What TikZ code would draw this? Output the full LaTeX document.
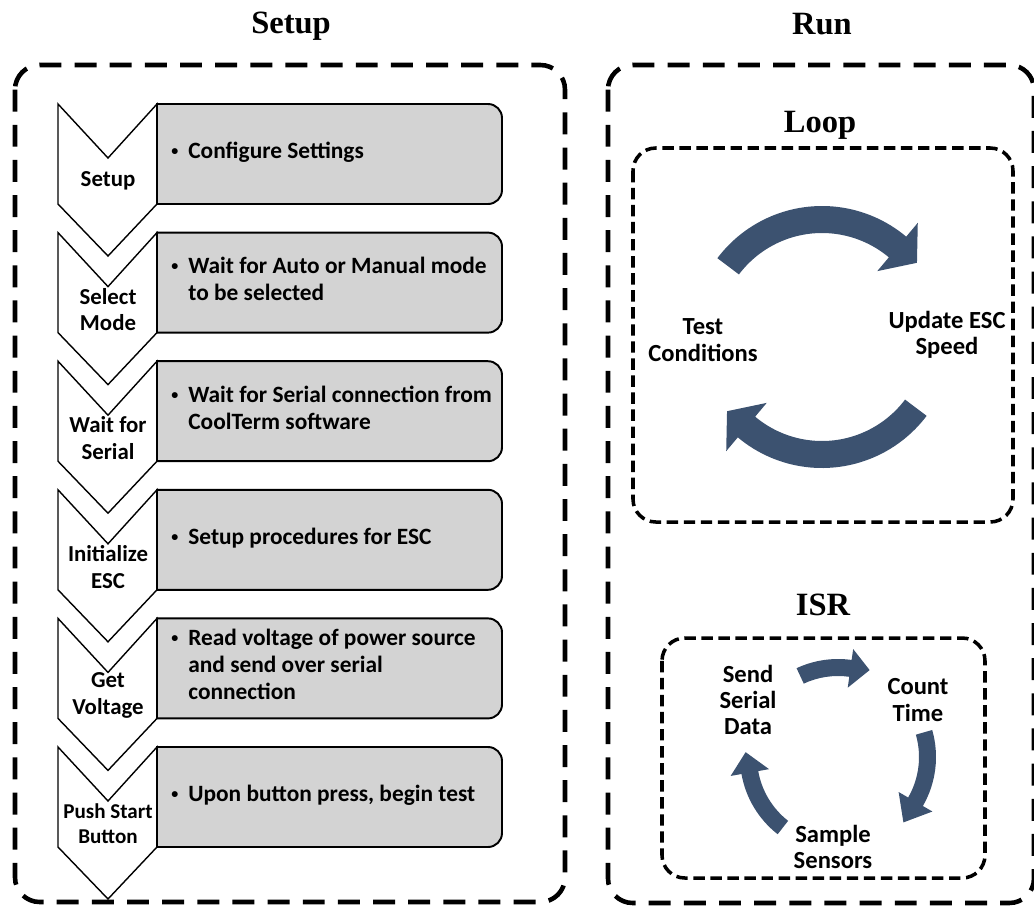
\documentclass[tikz,border=0pt]{standalone}
\usepackage{fontspec}
\setmainfont{Carlito}
\newfontfamily\titlefont{Liberation Serif}
\usetikzlibrary{calc}
\definecolor{stepgray}{RGB}{211,211,211}
\definecolor{arrowblue}{RGB}{60,82,112}

\begin{document}
\begin{tikzpicture}
  [x=0.2mm,y=0.2mm,
   title/.style={font=\titlefont\bfseries\fontsize{18.5}{22}\selectfont,anchor=base},
   outerbox/.style={line width=2.6pt,dash pattern=on 12.5pt off 7.5pt,rounded corners=14pt},
   innerbox/.style={line width=2pt,dash pattern=on 6.5pt off 3.2pt,rounded corners=13pt},
   chevron/.style={draw,fill=white,line width=0.8pt},
   stepbox/.style={draw,fill=stepgray,line width=1.1pt},
   steplabel/.style={align=center,inner sep=0pt},
   steptext/.style={font=\bfseries\fontsize{13.3}{15.4}\selectfont,anchor=west,inner sep=0pt},
   cyclelabel/.style={font=\bfseries\fontsize{14}{15}\selectfont,align=center,inner sep=0pt},
   arrowfill/.style={fill=arrowblue}]
  \useasboundingbox (0,0) rectangle (1034,-907);

  % titles and outer frames
  \node[title] (setuptitle) at (291,-33) {Setup};
  \node[title] (runtitle) at (822,-34) {Run};
  \draw[outerbox] (15,-65) rectangle (565,-902);
  \draw[outerbox] (608,-65) rectangle (1034,-903);

  % setup steps
  \foreach \i/\lab/\fs/\bs/\txt in {0/Setup/13/15.3/Configure Settings,
      1/{Select\\Mode}/13/15.3/{Wait for Auto or Manual mode\\to be selected},
      2/{Wait for\\Serial}/13/15.3/{Wait for Serial connection from\\CoolTerm software},
      3/{Initialize\\ESC}/13/15.3/Setup procedures for ESC,
      4/{Get\\Voltage}/13/15.3/{Read voltage of power source\\and send over serial\\connection},
      5/{Push Start\\Button}/12/14.2/{Upon button press, begin test}}
  {
    \pgfmathsetmacro\T{104+128.6*\i}
    \draw[chevron] (58,-\T) -- ++(50,-54) -- ++(49,54) -- ++(0,-100) -- ++(-49,-52) -- ++(-50,52) -- cycle;
    \draw[stepbox] (157,-\T) -- (488,-\T) arc[start angle=90,end angle=0,radius=14]
      -- (502,-\T-86) arc[start angle=0,end angle=-90,radius=14] -- (157,-\T-100) -- cycle;
    \node[steplabel,font=\bfseries\fontsize{\fs}{\bs}\selectfont] (lab\i) at (108,-\T-77) {\lab};
    \node[steptext] (txt\i) at (171,-\T-49)
      {\makebox[3.4mm][l]{\raisebox{0.12em}{\scalebox{0.6}{\textbullet}}}\begin{tabular}[t]{@{}l@{}}\txt\end{tabular}};
  }

  % loop and isr
  \node[title] (looptitle) at (820,-132) {Loop};
  \draw[innerbox] (633,-148) rectangle (1013,-522);
  \node[title] (isrtitle) at (823,-615) {ISR};
  \draw[innerbox] (662,-638) rectangle (985,-878);

  \node[cyclelabel] (test) at (703,-340) {Test\\Conditions};
  \node[cyclelabel] (update) at (947,-335) {Update ESC\\Speed};
  \node[cyclelabel] (send) at (748,-700) {Send\\Serial\\Data};
  \node[cyclelabel] (count) at (918,-700) {Count\\Time};
  \node[cyclelabel] (sample) at (833,-847) {Sample\\Sensors};

  % curved arrows: centre, inner and outer radius, barb, tail, head base, tip
  \foreach \cx/\cy/\ri/\ro/\e/\a/\b/\t in {822/337/104/131/18/143/50/38,
      822/337/104/131/18/323/230/218,
      838/757/81/98/11/115/82/70,
      838/757/81/98/11/16/-30/-45,
      838/757/81/98/11/-128/-170/-183}
  {
    \pgfmathsetmacro\rout{\ro+\e}
    \pgfmathsetmacro\rin{\ri-\e}
    \pgfmathsetmacro\rmid{(\ri+\ro)/2+3}
    \fill[arrowfill] ($(\cx,-\cy)+(\a:\ro)$) arc[start angle=\a,end angle=\b,radius=\ro]
      -- ($(\cx,-\cy)+(\b:\rout)$) -- ($(\cx,-\cy)+(\t:\rmid)$)
      -- ($(\cx,-\cy)+(\b:\rin)$) -- ($(\cx,-\cy)+(\b:\ri)$)
      arc[start angle=\b,end angle=\a,radius=\ri] -- cycle;
  }
\end{tikzpicture}
\end{document}
